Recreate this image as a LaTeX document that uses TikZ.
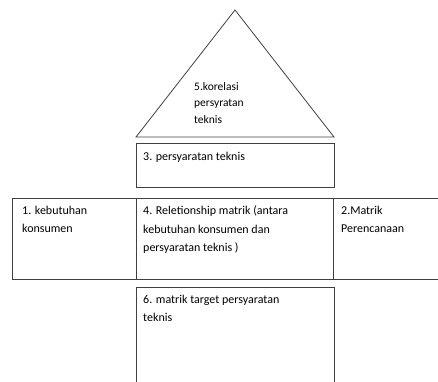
\documentclass[tikz,border=0pt]{standalone}
\usepackage{fontspec}
\setmainfont{Carlito}
\usetikzlibrary{positioning}

\begin{document}
\begin{tikzpicture}[x=1pt,y=1pt]
    \tikzset{
      box/.style={draw=black!75, fill=white,
                  line width=0.8pt,
                  shape=rectangle,
                  inner sep=0pt, outer sep=0pt,
                  anchor=north west},
      txt/.style={align=left, inner sep=0pt,
                  font=\fontsize{12}{18.2}\selectfont},
      small/.style={align=left, inner sep=0pt,
                  font=\fontsize{11.5}{16.5}\selectfont}
    }
    \useasboundingbox (0,0) rectangle (438,381);

    % the roof
    \coordinate (puncak) at (235,371);
    \coordinate (kiri) at (136,244);
    \coordinate (kanan) at (334,244);
    \draw[draw=black!75, line width=0.8pt] (kiri) -- (puncak) -- (kanan) -- cycle;

    \node [box, minimum width=198pt, minimum height=44pt] (persyaratan) at (136,238) {};
    \node [box, minimum width=124pt, minimum height=81pt] (kebutuhan) at (12,183) {};
    \node [box, minimum width=197pt, minimum height=81pt, right=0pt of kebutuhan.north east, anchor=north west] (relasi) {};
    \node [box, minimum width=110pt, minimum height=81pt, right=0pt of relasi.north east, anchor=north west] (matrik) {};
    \node [box, minimum width=198pt, minimum height=100pt] (target) at (136,94) {};

    \node [small, anchor=north west] (korelasi) at (194,299) {5.korelasi\\persyratan\\teknis};
    \node [txt, below right=9pt and 7pt of persyaratan.north west] (persyaratantxt) {3. persyaratan teknis};
    \node [txt, below right=8pt and 10pt of kebutuhan.north west] (kebutuhantxt) {1. kebutuhan\\konsumen};
    \node [txt, below right=8pt and 7pt of relasi.north west] (relasitxt) {4. Reletionship matrik (antara\\kebutuhan konsumen dan\\persyaratan teknis )};
    \node [txt, below right=8pt and 8pt of matrik.north west] (matriktxt) {2.Matrik\\Perencanaan};
    \node [txt, below right=8pt and 7pt of target.north west] (targettxt) {6. matrik target persyaratan\\teknis};

\end{tikzpicture}
\end{document}
